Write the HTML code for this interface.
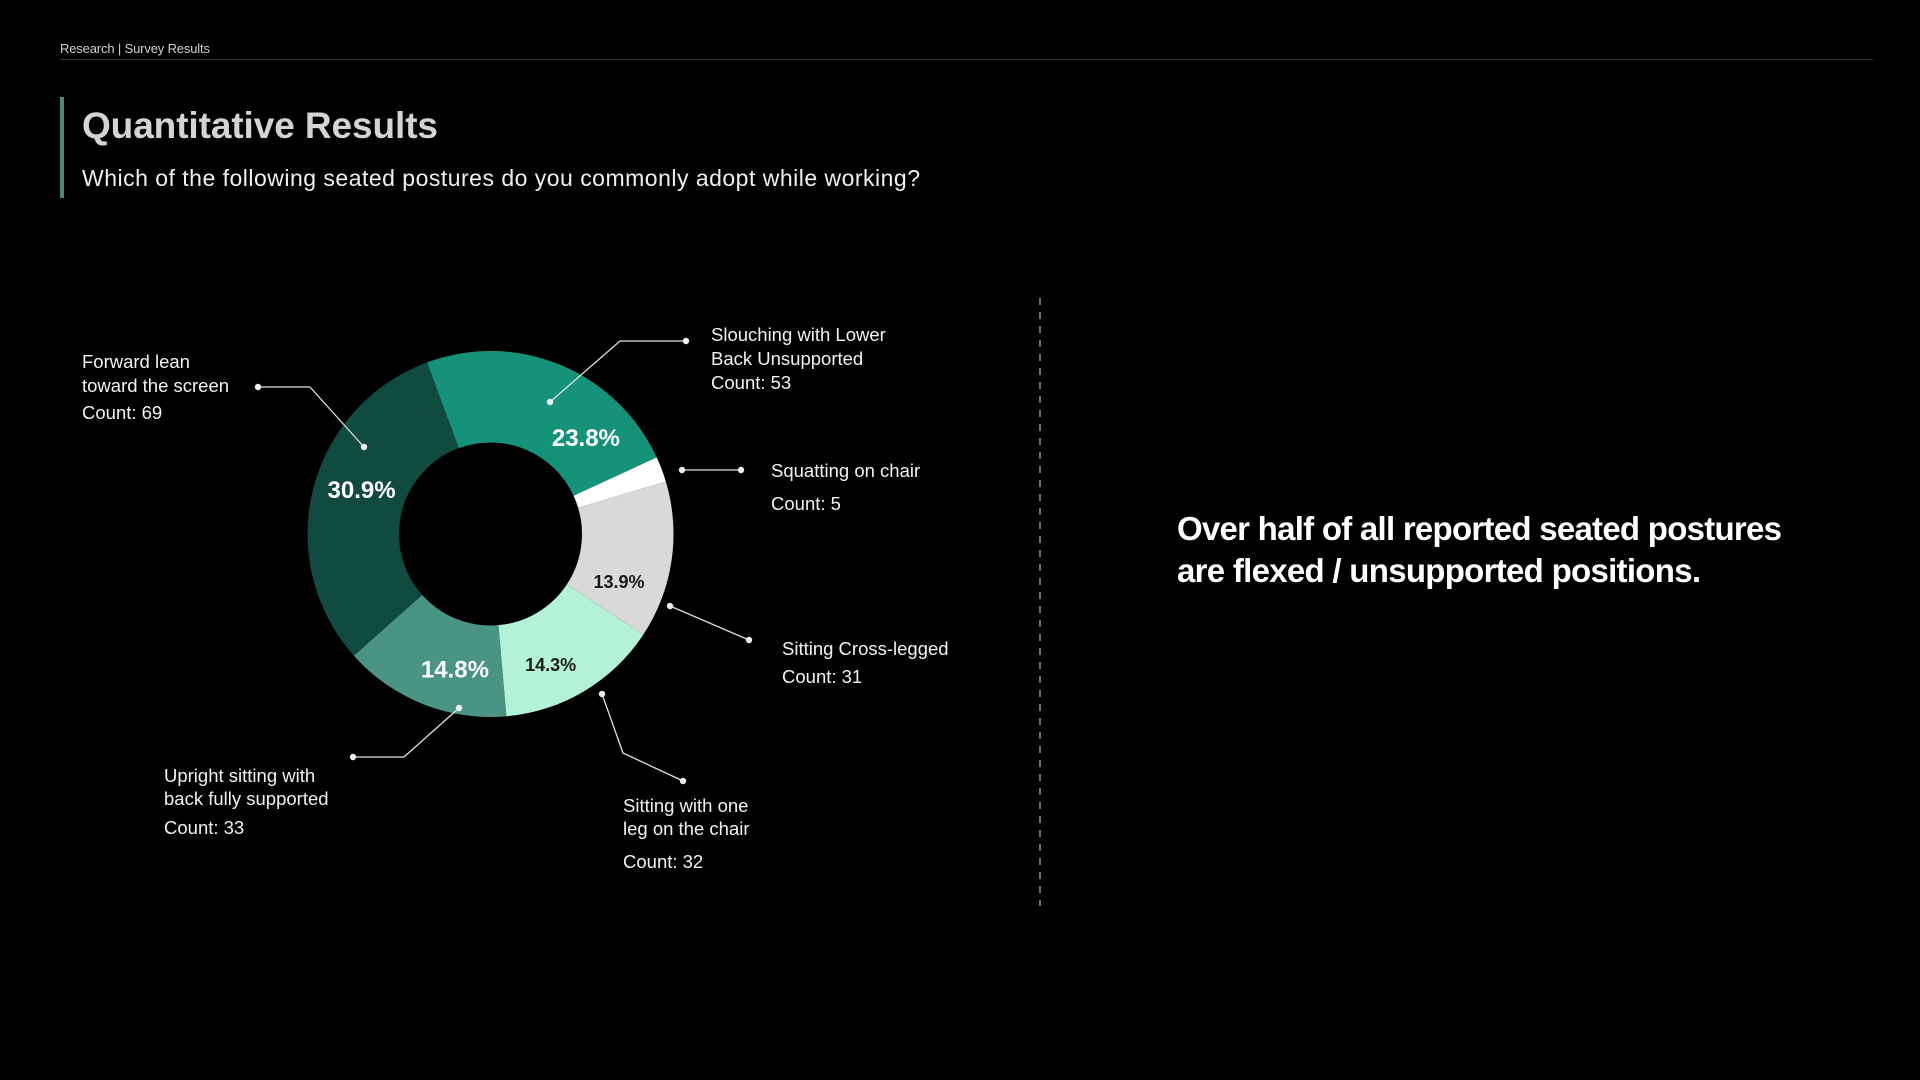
<!DOCTYPE html>
<html><head><meta charset="utf-8"><style>
html,body{margin:0;padding:0;background:#000;width:1920px;height:1080px;overflow:hidden}
svg{display:block}
text{font-family:"Liberation Sans","DejaVu Sans",sans-serif}
</style></head><body>
<svg id="page" width="1920" height="1080" viewBox="0 0 1920 1080" xmlns="http://www.w3.org/2000/svg">
  <rect x="0" y="0" width="1920" height="1080" fill="#000"/>
  <text x="60" y="53" font-size="13" fill="#d0d0d0" textLength="150">Research |  Survey Results</text>
  <line x1="60" y1="59.5" x2="1873" y2="59.5" stroke="#333" stroke-width="1"/>
  <rect x="60" y="97" width="4" height="101" fill="#4a8a78"/>
  <text x="82" y="138" font-size="37" font-weight="bold" fill="#d4d4d4" textLength="356">Quantitative Results</text>
  <text x="82" y="186" font-size="23" fill="#f0f0f0" textLength="838">Which of the following seated postures do you commonly adopt while working?</text>
  <g id="donut"></g>
  <g id="leaders"></g>
  <g id="labels"></g>
  <line x1="1040" y1="298" x2="1040" y2="906" stroke="#aaa" stroke-width="1.3" stroke-dasharray="7,7"/>
  <text x="1177" y="540" font-size="33" font-weight="bold" fill="#fff" textLength="605">Over half of all reported seated postures</text>
  <text x="1177" y="582" font-size="33" font-weight="bold" fill="#fff" textLength="524">are flexed / unsupported positions.</text>
</svg>
<script>
// Chart data
const categories = ["Slouching with Lower Back Unsupported","Squatting on chair","Sitting Cross-legged","Sitting with one leg on the chair","Upright sitting with back fully supported","Forward lean toward the screen"];
const counts = [53, 5, 31, 32, 33, 69];
const pctLabels = ["23.8%", "", "13.9%", "14.3%", "14.8%", "30.9%"];
const sliceColors = ["#14937a", "#ffffff", "#d9d9d9", "#b3f2d6", "#4a9484", "#114a3e"];
const pctColors = ["#fff", "#000", "#1a1a1a", "#1a1a1a", "#fff", "#fff"];
const labelLines = [
  ["Slouching with Lower", "Back Unsupported"],
  ["Squatting on chair"],
  ["Sitting Cross-legged"],
  ["Sitting with one", "leg on the chair"],
  ["Upright sitting with", "back fully supported"],
  ["Forward lean", "toward the screen"]
];

const NS = "http://www.w3.org/2000/svg";
const cx = 490.5, cy = 534, rOut = 183, rIn = 91.5, startDeg = -20.3;
const total = counts.reduce((a, b) => a + b, 0);
function angleOf(v) { return v / total * 360; }
function pt(deg, r) { const a = deg * Math.PI / 180; return [cx + r * Math.sin(a), cy - r * Math.cos(a)]; }
function mk(tag, attrs, parent) { const e = document.createElementNS(NS, tag); for (const k in attrs) e.setAttribute(k, attrs[k]); parent.appendChild(e); return e; }

const donut = document.getElementById("donut");
const labelsG = document.getElementById("labels");
const leadersG = document.getElementById("leaders");
// label styling nudges (pixel offsets, not data)
const pctNudge = [[43, 30], [0, 0], [-7, 28], [-10, 13], [15, 8], [4, -11]];
const pctSize = [24, 0, 18, 18, 24, 24];

let acc = startDeg;
counts.forEach((c, i) => {
  const a0 = acc, a1 = acc + angleOf(c);
  acc = a1;
  const large = (a1 - a0) > 180 ? 1 : 0;
  const p0 = pt(a0, rOut), p1 = pt(a1, rOut), q1 = pt(a1, rIn), q0 = pt(a0, rIn);
  const d = `M${p0[0]},${p0[1]} A${rOut},${rOut} 0 ${large} 1 ${p1[0]},${p1[1]} L${q1[0]},${q1[1]} A${rIn},${rIn} 0 ${large} 0 ${q0[0]},${q0[1]} Z`;
  const path = mk("path", { d: d, fill: sliceColors[i] }, donut);
  
  
  if (pctLabels[i]) {
    const m = pt((a0 + a1) / 2, 137);
    const t = mk("text", { x: m[0] + pctNudge[i][0], y: m[1] + pctNudge[i][1] + pctSize[i] * 0.35, "text-anchor": "middle", "font-size": pctSize[i], "font-weight": "bold", fill: pctColors[i] }, labelsG);
    t.textContent = pctLabels[i];
    
    
  }
});

// annotation geometry (leader polylines and text anchors)
const leaderPts = [
  [[550, 402], [620, 341], [686, 341]],
  [[682, 470], [741, 470]],
  [[670, 606], [749, 640]],
  [[602, 694], [623, 753], [683, 781]],
  [[459, 708], [404, 757], [353, 757]],
  [[364, 447], [310, 387], [258, 387]]
];
const textPos = [[711, 341, 24], [771, 477, 0], [782, 655, 0], [623, 812, 23], [164, 782, 23], [82, 368, 24]];
const countPos = [389, 510, 683, 868, 834, 419];

leaderPts.forEach((pts, i) => {
  const pl = mk("polyline", { points: pts.map(p => p.join(",")).join(" "), fill: "none", stroke: "#e0e0e0", "stroke-width": 1.3 }, leadersG);
  
  
  [pts[0], pts[pts.length - 1]].forEach(p => {
    const c = mk("circle", { cx: p[0], cy: p[1], r: 3.2, fill: "#eee" }, leadersG);
    
    
  });
  const [tx, ty, lh] = textPos[i];
  labelLines[i].forEach((line, j) => {
    const t = mk("text", { x: tx, y: ty + j * lh, "font-size": 18.5, fill: "#f2f2f2" }, labelsG);
    t.textContent = line;
    
    
  });
  const ct = mk("text", { x: tx, y: countPos[i], "font-size": 18.5, fill: "#f2f2f2" }, labelsG);
  ct.textContent = "Count: " + counts[i];
  
  
});
</script>
</body></html>
